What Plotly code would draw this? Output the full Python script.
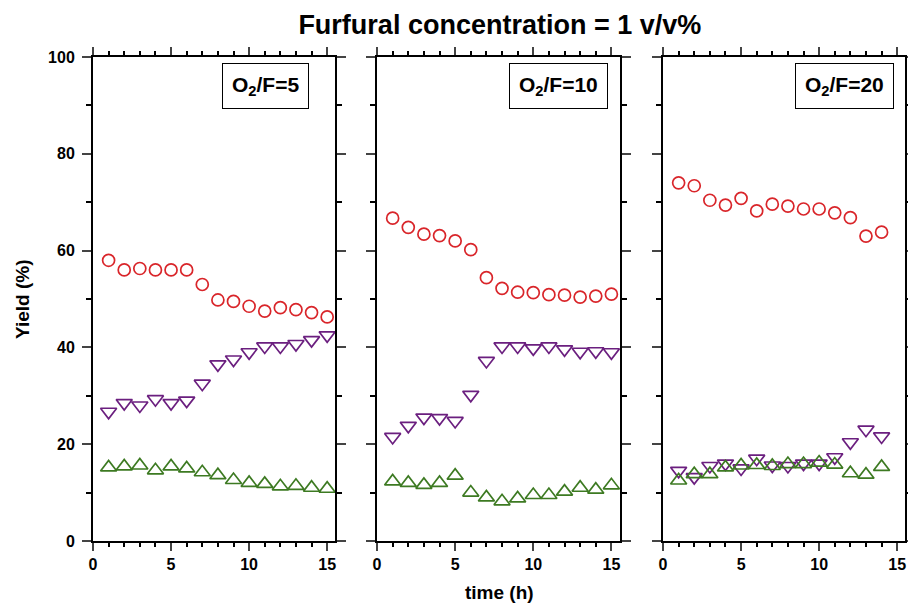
import plotly.graph_objects as go

# ---- data ----
t1 = list(range(1, 16))
t2 = list(range(1, 16))
t3 = list(range(1, 15))

red1 = [58, 56, 56.3, 56, 56, 56, 53, 49.8, 49.5, 48.5, 47.5, 48.2, 47.8, 47.2, 46.3]
purple1 = [26.7, 28.5, 28, 29.3, 28.5, 29, 32.5, 36.5, 37.5, 39, 40.2, 40.2, 40.7, 41.5, 42.5]
green1 = [15.2, 15.4, 15.6, 14.6, 15.4, 15, 14.2, 13.6, 12.6, 12, 11.8, 11.3, 11.4, 11, 10.8]

red2 = [66.7, 64.8, 63.4, 63.1, 62, 60.2, 54.4, 52.2, 51.4, 51.3, 50.9, 50.8, 50.4, 50.6, 51]
purple2 = [21.5, 23.8, 25.5, 25.4, 24.8, 30.2, 37.2, 40.2, 40.2, 39.8, 40.2, 39.6, 39.1, 39.2, 39]
green2 = [12.3, 12.0, 11.6, 12.0, 13.5, 10.0, 9.0, 8.2, 8.8, 9.5, 9.5, 10.2, 11, 10.6, 11.5]

red3 = [74, 73.4, 70.4, 69.4, 70.8, 68.2, 69.6, 69.2, 68.6, 68.6, 67.8, 66.8, 63, 63.8]
purple3 = [14.5, 13.2, 15.5, 16, 15, 17, 15.6, 15.5, 16, 16, 17.3, 20.4, 23, 21.6]
green3 = [12.5, 13.8, 13.8, 15.2, 15.6, 15.7, 15.5, 15.9, 15.9, 16.2, 15.8, 14.0, 13.7, 15.3]

panel_labels = ["O<sub>2</sub>/F=5", "O<sub>2</sub>/F=10", "O<sub>2</sub>/F=20"]
title_text = "Furfural concentration = 1 v/v%"
x_title = "time (h)"
y_title = "Yield (%)"

RED = "#D9252A"
PURPLE = "#6B1F7F"
GREEN = "#3D7A22"
FONT = "Liberation Sans, Arial, sans-serif"

fig = go.Figure()

panels = [(t1, red1, purple1, green1), (t2, red2, purple2, green2), (t3, red3, purple3, green3)]
for i, (t, r, p, g) in enumerate(panels):
    xa = "x" if i == 0 else f"x{i+1}"
    ya = "y" if i == 0 else f"y{i+1}"
    fig.add_trace(go.Scatter(x=t, y=r, mode="markers", xaxis=xa, yaxis=ya, showlegend=False,
                             marker=dict(symbol="circle-open", size=12, color=RED, line=dict(width=1.7, color=RED))))
    fig.add_trace(go.Scatter(x=t, y=p, mode="markers", xaxis=xa, yaxis=ya, showlegend=False,
                             marker=dict(symbol="triangle-down-open", size=14, color=PURPLE, line=dict(width=1.7, color=PURPLE))))
    fig.add_trace(go.Scatter(x=t, y=g, mode="markers", xaxis=xa, yaxis=ya, showlegend=False,
                             marker=dict(symbol="triangle-up-open", size=14, color=GREEN, line=dict(width=1.7, color=GREEN))))

domains = [[0.0, 0.298], [0.3498, 0.649], [0.702, 1.0]]
xranges = [[0, 15.5], [0, 15.55], [0, 15.5]]
tickfont = dict(size=16, family=FONT, color="black", weight="bold")

layout = dict(
    width=908, height=604,
    margin=dict(l=93, r=3, t=57, b=63, autoexpand=False),
    paper_bgcolor="white", plot_bgcolor="white",
    font=dict(family=FONT, color="black", size=14),
    title=dict(text=title_text, x=0.501, xref="paper", xanchor="center", y=0.96, yanchor="middle",
               font=dict(size=27, family=FONT, color="black", weight="bold")),
)
for i in range(3):
    sfx = "" if i == 0 else str(i + 1)
    layout[f"xaxis{sfx}"] = dict(
        domain=domains[i], range=xranges[i], anchor=f"y{sfx}",
        tick0=0, dtick=5, ticks="outside", ticklen=8, tickwidth=1.5,
        minor=dict(dtick=1, ticks="outside", ticklen=4, tickwidth=1.5, tickcolor="black", showgrid=False),
        showline=True, linecolor="black", linewidth=2, mirror="allticks", showgrid=False, zeroline=False,
        tickfont=tickfont, automargin=False, ticklabeloverflow="allow",
    )
    layout[f"yaxis{sfx}"] = dict(
        domain=[0, 1], range=[0, 100], anchor=f"x{sfx}",
        tick0=0, dtick=20, ticks="outside", ticklen=9, tickwidth=1.5,
        minor=dict(dtick=10, ticks="outside", ticklen=5, tickwidth=1.5, tickcolor="black", showgrid=False),
        showticklabels=(i == 0), ticklabelstandoff=4,
        showline=True, linecolor="black", linewidth=2, mirror="allticks", showgrid=False, zeroline=False,
        tickfont=tickfont, automargin=False, ticklabeloverflow="allow",
    )

fig.update_layout(**layout)

right_edges = [0.893, 0.95, 0.955]
for i in range(3):
    sfx = "" if i == 0 else str(i + 1)
    fig.add_annotation(text=panel_labels[i], xref=f"x{sfx} domain", yref=f"y{sfx} domain",
                       x=right_edges[i], y=0.988, xanchor="right", yanchor="top", showarrow=False,
                       font=dict(size=21, family=FONT, color="black", weight="bold"),
                       bordercolor="black", borderwidth=1, borderpad=9, bgcolor="white")

fig.add_annotation(text=x_title, xref="paper", yref="paper", x=0.501, y=-0.107,
                   xanchor="center", yanchor="middle", showarrow=False,
                   font=dict(size=19, family=FONT, color="black", weight="bold"))
fig.add_annotation(text=y_title, xref="paper", yref="paper", x=-0.0874, y=0.5,
                   xanchor="center", yanchor="middle", textangle=-90, showarrow=False,
                   font=dict(size=19, family=FONT, color="black", weight="bold"))

fig.write_html("out.html")
